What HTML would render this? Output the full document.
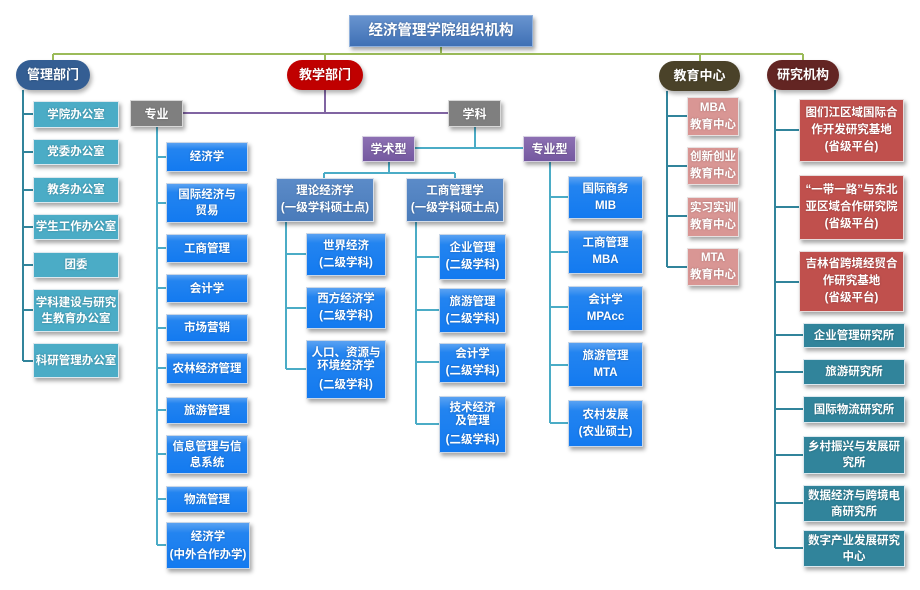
<!DOCTYPE html>
<html><head><meta charset="utf-8">
<style>
html,body{margin:0;padding:0;background:#fff;}
#c{position:relative;width:920px;height:590px;overflow:hidden;background:#fff;font-family:"Liberation Sans","Noto Sans CJK SC",sans-serif;}
svg{position:absolute;left:0;top:0;}
.b{position:absolute;display:flex;align-items:center;justify-content:center;text-align:center;color:#fff;font-weight:bold;font-size:11.5px;line-height:16px;box-sizing:border-box;box-shadow:2px 3px 4px rgba(0,0,0,0.35);text-shadow:0 0 2px rgba(0,0,0,0.25);white-space:nowrap;}
.blue{background:linear-gradient(to bottom,#5aa2f2 0%,#2384f0 22%,#137af0 100%);border:1px solid #c9d6e6;}
.teal{background:#4bacc6;border:1px solid #dce8ee;}
.dteal{background:#31849b;border:1px solid #dce8ee;}
.steel{background:linear-gradient(to bottom,#5b8bc8,#4a7bba);border:1px solid #d6dee9;line-height:17px;}
.gray{background:#7f7f7f;border:1px solid #d8d8d8;font-size:12px;}
.purp{background:linear-gradient(to bottom,#8d70b3,#7559a0);border:1px solid #d6d0e2;font-size:12px;}
.pink{background:#d99694;border:1px solid #e6e0e0;line-height:17px;}
.red{background:#c0504d;border:1px solid #e6dcdc;line-height:17px;}
.top{border-radius:15px;font-size:13px;box-shadow:2px 3px 4px rgba(0,0,0,0.3);}
.g{display:block;height:6px;}
</style></head><body>
<div id="c">
<svg width="920" height="590">
<g fill="none" stroke-width="2">
<g stroke="#9bbb59">
<path d="M441 47V54M53 54H803M53 54V60M325 54V60M700 54V61M803 54V60"/>
</g>
<g stroke="#31849b">
<path d="M23 90V361M23 114H33M23 152H33M23 190H33M23 227H33M23 265H33M23 310H33M23 361H33"/>
<path d="M667 91V267M667 116H687M667 166H687M667 216H687M667 267H687"/>
<path d="M775 90V548M775 130H799M775 207H799M775 282H799M775 335H803M775 372H803M775 409H803M775 455H803M775 503H803M775 548H803"/>
</g>
<g stroke="#8064a2">
<path d="M325 90V113M183 113H448"/>
</g>
<g stroke="#4bacc6">
<path d="M475 127V148M415 148H523M389 162V173M324 173H455M324 173V178M455 173V178"/>
<path d="M157 127V545M157 157H166M157 203H166M157 248H166M157 288H166M157 328H166M157 368H166M157 410H166M157 454H166M157 499H166M157 545H166"/>
<path d="M286 222V369M286 254H306M286 308H306M286 369H306"/>
<path d="M416 222V424M416 257H439M416 310H439M416 362H439M416 424H439"/>
<path d="M550 162V423M550 197H568M550 252H568M550 307H568M550 365H568M550 423H568"/>
</g>
</g>
</svg>

<div class="b" style="left:349px;top:15px;width:184px;height:32px;background:linear-gradient(to bottom,#6894cf,#3f70b5);border:1px solid #8fb0dc;font-size:14.5px;">经济管理学院组织机构</div>

<div class="b top" style="left:16px;top:60px;width:74px;height:30px;background:#345e93;">管理部门</div>
<div class="b top" style="left:287px;top:60px;width:76px;height:30px;background:#c00000;">教学部门</div>
<div class="b top" style="left:659px;top:61px;width:81px;height:30px;background:#4a4229;">教育中心</div>
<div class="b top" style="left:767px;top:60px;width:72px;height:30px;background:#632523;">研究机构</div>

<div class="b teal" style="left:33px;top:101px;width:86px;height:27px;">学院办公室</div>
<div class="b teal" style="left:33px;top:139px;width:86px;height:26px;">党委办公室</div>
<div class="b teal" style="left:33px;top:177px;width:86px;height:26px;">教务办公室</div>
<div class="b teal" style="left:33px;top:214px;width:86px;height:26px;">学生工作办公室</div>
<div class="b teal" style="left:33px;top:252px;width:86px;height:26px;">团委</div>
<div class="b teal" style="left:33px;top:289px;width:86px;height:43px;">学科建设与研究<br>生教育办公室</div>
<div class="b teal" style="left:33px;top:343px;width:86px;height:35px;">科研管理办公室</div>

<div class="b gray" style="left:130px;top:100px;width:53px;height:27px;">专业</div>
<div class="b gray" style="left:448px;top:100px;width:53px;height:27px;">学科</div>
<div class="b purp" style="left:362px;top:136px;width:53px;height:26px;">学术型</div>
<div class="b purp" style="left:523px;top:136px;width:53px;height:26px;">专业型</div>

<div class="b blue" style="left:166px;top:142px;width:82px;height:30px;">经济学</div>
<div class="b blue" style="left:166px;top:183px;width:82px;height:40px;">国际经济与<br>贸易</div>
<div class="b blue" style="left:166px;top:234px;width:82px;height:29px;">工商管理</div>
<div class="b blue" style="left:166px;top:274px;width:82px;height:29px;">会计学</div>
<div class="b blue" style="left:166px;top:314px;width:82px;height:28px;">市场营销</div>
<div class="b blue" style="left:166px;top:353px;width:82px;height:31px;">农林经济管理</div>
<div class="b blue" style="left:166px;top:397px;width:82px;height:27px;">旅游管理</div>
<div class="b blue" style="left:166px;top:435px;width:82px;height:39px;">信息管理与信<br>息系统</div>
<div class="b blue" style="left:166px;top:486px;width:82px;height:27px;">物流管理</div>
<div class="b blue" style="left:166px;top:522px;width:84px;height:47px;line-height:18px;">经济学<br>(中外合作办学)</div>

<div class="b steel" style="left:276px;top:178px;width:98px;height:44px;">理论经济学<br>(一级学科硕士点)</div>
<div class="b steel" style="left:406px;top:178px;width:98px;height:44px;">工商管理学<br>(一级学科硕士点)</div>

<div class="b blue" style="left:306px;top:233px;width:80px;height:43px;line-height:17px;">世界经济<br>(二级学科)</div>
<div class="b blue" style="left:306px;top:287px;width:80px;height:42px;line-height:17px;">西方经济学<br>(二级学科)</div>
<div class="b blue" style="left:306px;top:340px;width:80px;height:59px;line-height:13px;"><div>人口、资源与<br>环境经济学<span class="g"></span>(二级学科)</div></div>

<div class="b blue" style="left:439px;top:234px;width:67px;height:46px;line-height:17px;">企业管理<br>(二级学科)</div>
<div class="b blue" style="left:439px;top:288px;width:67px;height:45px;line-height:17px;">旅游管理<br>(二级学科)</div>
<div class="b blue" style="left:439px;top:343px;width:67px;height:40px;line-height:17px;">会计学<br>(二级学科)</div>
<div class="b blue" style="left:439px;top:396px;width:67px;height:57px;line-height:13px;"><div>技术经济<br>及管理<span class="g"></span>(二级学科)</div></div>

<div class="b blue" style="left:568px;top:176px;width:75px;height:43px;line-height:17px;">国际商务<br>MIB</div>
<div class="b blue" style="left:568px;top:230px;width:75px;height:44px;line-height:17px;">工商管理<br>MBA</div>
<div class="b blue" style="left:568px;top:286px;width:75px;height:45px;line-height:17px;">会计学<br>MPAcc</div>
<div class="b blue" style="left:568px;top:342px;width:75px;height:45px;line-height:17px;">旅游管理<br>MTA</div>
<div class="b blue" style="left:568px;top:400px;width:75px;height:47px;line-height:17px;">农村发展<br>(农业硕士)</div>

<div class="b pink" style="left:687px;top:97px;width:52px;height:39px;">MBA<br>教育中心</div>
<div class="b pink" style="left:687px;top:147px;width:52px;height:38px;">创新创业<br>教育中心</div>
<div class="b pink" style="left:687px;top:197px;width:52px;height:40px;">实习实训<br>教育中心</div>
<div class="b pink" style="left:687px;top:248px;width:52px;height:38px;">MTA<br>教育中心</div>

<div class="b red" style="left:799px;top:99px;width:105px;height:63px;">图们江区域国际合<br>作开发研究基地<br>(省级平台)</div>
<div class="b red" style="left:799px;top:175px;width:105px;height:65px;">“一带一路”与东北<br>亚区域合作研究院<br>(省级平台)</div>
<div class="b red" style="left:799px;top:251px;width:105px;height:61px;">吉林省跨境经贸合<br>作研究基地<br>(省级平台)</div>

<div class="b dteal" style="left:803px;top:323px;width:102px;height:25px;">企业管理研究所</div>
<div class="b dteal" style="left:803px;top:359px;width:102px;height:26px;">旅游研究所</div>
<div class="b dteal" style="left:803px;top:396px;width:102px;height:27px;">国际物流研究所</div>
<div class="b dteal" style="left:803px;top:436px;width:102px;height:38px;">乡村振兴与发展研<br>究所</div>
<div class="b dteal" style="left:803px;top:485px;width:102px;height:37px;">数据经济与跨境电<br>商研究所</div>
<div class="b dteal" style="left:803px;top:530px;width:102px;height:37px;">数字产业发展研究<br>中心</div>
</div>
</body></html>
